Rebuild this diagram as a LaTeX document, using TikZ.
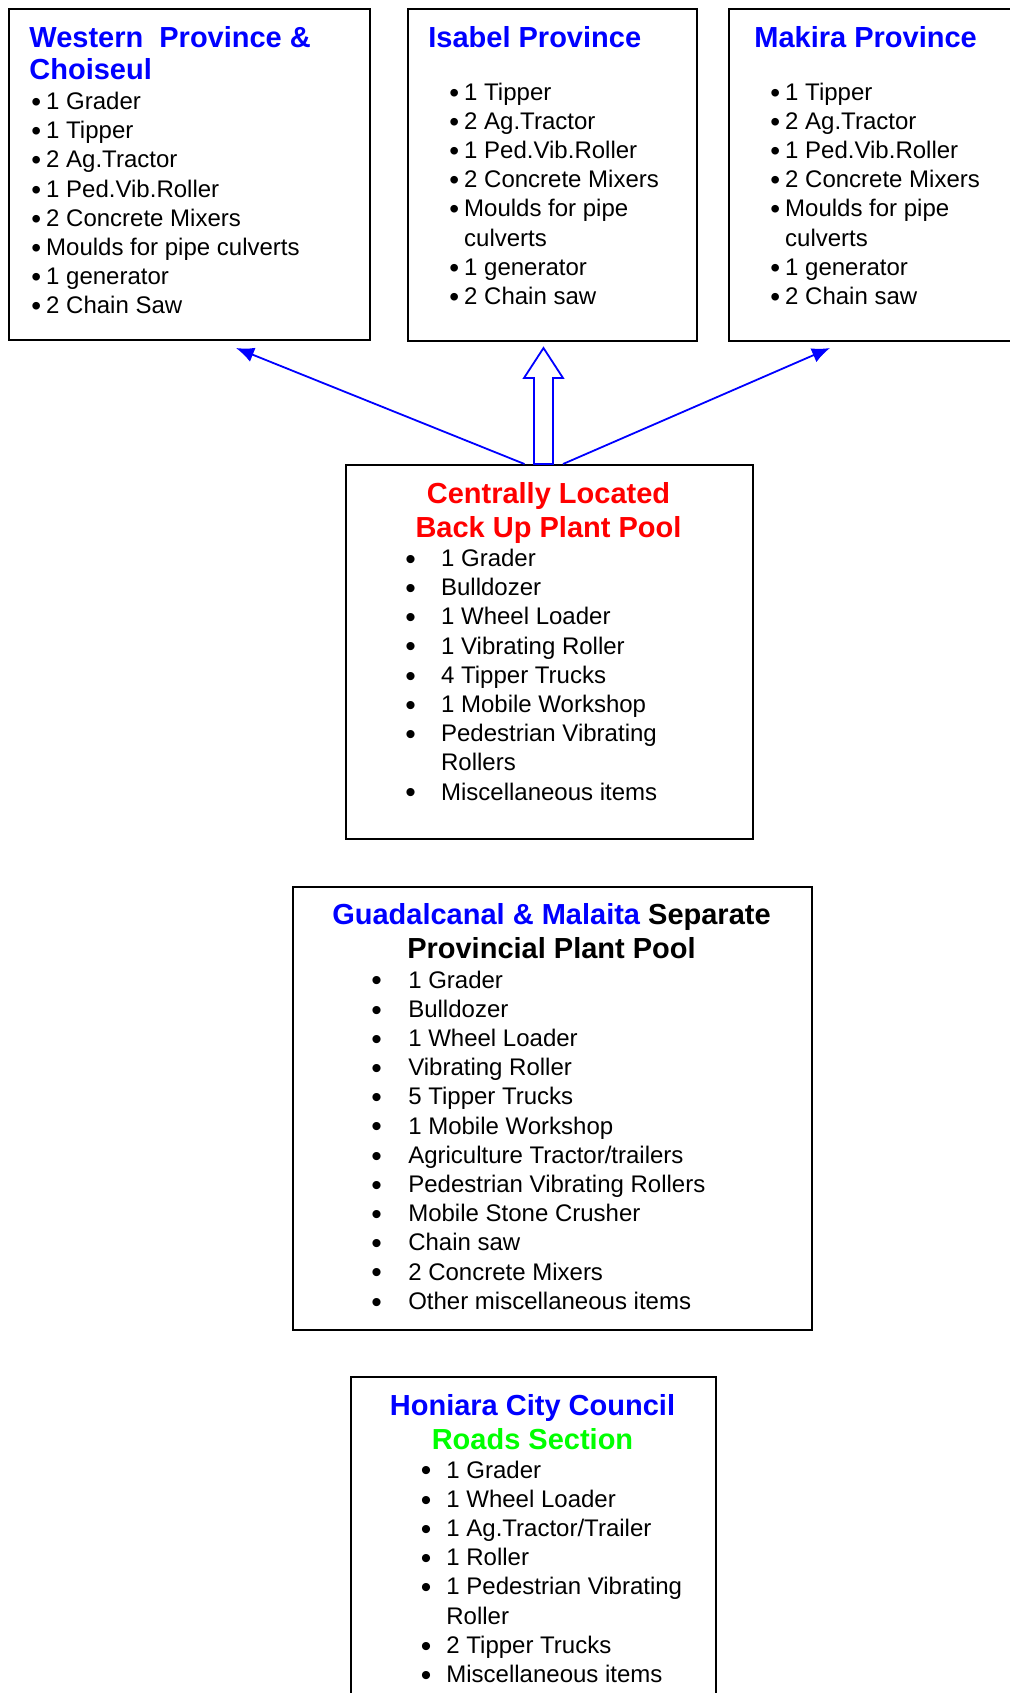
\documentclass[tikz,border=0pt]{standalone}
\usepackage{fontspec}
\setmainfont{Liberation Sans}
\usetikzlibrary{positioning, arrows.meta, calc}

\definecolor{ttlblue}{RGB}{0,0,255}
\definecolor{ttlred}{RGB}{255,0,0}
\definecolor{ttlgreen}{RGB}{0,255,0}

\newcommand{\bul}{\raisebox{-1pt}{\fontsize{14}{14.6}\selectfont\textbullet}}
\newcommand{\bigbul}{\raisebox{-1.4pt}{\fontsize{15}{14.6}\selectfont\textbullet}}

\begin{document}
\begin{tikzpicture}[x=0.5pt,y=-0.5pt,
  box/.style={draw,line width=1pt,anchor=north west,inner sep=0pt},
  ttl/.style={font=\fontsize{14.5}{16.2}\selectfont\bfseries,inner sep=0pt},
  lst/.style={font=\fontsize{12}{14.6}\selectfont,inner sep=0pt,anchor=base west},
  arr/.style={draw=ttlblue,line width=0.9pt,-{Latex[length=9pt,width=7.5pt]}}]
\useasboundingbox (0,0) rectangle (1010,1693);
\clip (0,0) rectangle (1010,1693);

%les cadres
\node[box,minimum width=180.5pt,minimum height=165.5pt] (west) at (8,8) {};
\node[box,minimum width=144.5pt,minimum height=166pt] (isab) at (407,8) {};
\node[box,minimum width=150pt,minimum height=166pt] (maki) at (728,8) {};
\node[box,minimum width=203.5pt,minimum height=187pt] (cen) at (345,464) {};
\node[box,minimum width=259.5pt,minimum height=221.5pt] (guad) at (292,886) {};
\node[box,minimum width=182.5pt,minimum height=170pt] (honi) at (350,1376) {};

%Western
\node[ttl,text=ttlblue,anchor=base west] (westT) at (29,47)
  {\begin{tabular}[t]{@{}l@{}}Western\ \ Province \&\\Choiseul\end{tabular}};
\node[lst] (westL) at (31,109.5) {\begin{tabular}[t]{@{}l@{\hspace{2.5pt}}l@{}}
\bul & 1 Grader\\
\bul & 1 Tipper\\
\bul & 2 Ag.Tractor\\
\bul & 1 Ped.Vib.Roller\\
\bul & 2 Concrete Mixers\\
\bul & Moulds for pipe culverts\\
\bul & 1 generator\\
\bul & 2 Chain Saw
\end{tabular}};

%Isabel
\node[ttl,text=ttlblue,anchor=base west] (isabT) at (428,47) {Isabel Province};
\node[lst] (isabL) at (449,100) {\begin{tabular}[t]{@{}l@{\hspace{2.5pt}}l@{}}
\bul & 1 Tipper\\
\bul & 2 Ag.Tractor\\
\bul & 1 Ped.Vib.Roller\\
\bul & 2 Concrete Mixers\\
\bul & Moulds for pipe\\
     & culverts\\
\bul & 1 generator\\
\bul & 2 Chain saw
\end{tabular}};

%Makira
\node[ttl,text=ttlblue,anchor=base west] (makiT) at (754,47) {Makira Province};
\node[lst] (makiL) at (770,100) {\begin{tabular}[t]{@{}l@{\hspace{2.5pt}}l@{}}
\bul & 1 Tipper\\
\bul & 2 Ag.Tractor\\
\bul & 1 Ped.Vib.Roller\\
\bul & 2 Concrete Mixers\\
\bul & Moulds for pipe\\
     & culverts\\
\bul & 1 generator\\
\bul & 2 Chain saw
\end{tabular}};

%pool central
\node[ttl,text=ttlred,anchor=base,font=\fontsize{14.5}{17.2}\selectfont\bfseries] (cenT) at (548.5,503)
  {\begin{tabular}[t]{@{}c@{}}Centrally Located\\Back Up Plant Pool\end{tabular}};
\node[lst] (cenL) at (405,566.5) {\begin{tabular}[t]{@{}l@{\hspace{12.6pt}}l@{}}
\bigbul & 1 Grader\\
\bigbul & Bulldozer\\
\bigbul & 1 Wheel Loader\\
\bigbul & 1 Vibrating Roller\\
\bigbul & 4 Tipper Trucks\\
\bigbul & 1 Mobile Workshop\\
\bigbul & Pedestrian Vibrating\\
        & Rollers\\
\bigbul & Miscellaneous items
\end{tabular}};

%Guadalcanal
\node[ttl,anchor=base,font=\fontsize{14.5}{17}\selectfont\bfseries] (guadT) at (551.5,924)
  {\begin{tabular}[t]{@{}c@{}}{\color{ttlblue}Guadalcanal \& Malaita} Separate\\Provincial Plant Pool\end{tabular}};
\node[lst] (guadL) at (371,988) {\begin{tabular}[t]{@{}l@{\hspace{13.2pt}}l@{}}
\bigbul & 1 Grader\\
\bigbul & Bulldozer\\
\bigbul & 1 Wheel Loader\\
\bigbul & Vibrating Roller\\
\bigbul & 5 Tipper Trucks\\
\bigbul & 1 Mobile Workshop\\
\bigbul & Agriculture Tractor/trailers\\
\bigbul & Pedestrian Vibrating Rollers\\
\bigbul & Mobile Stone Crusher\\
\bigbul & Chain saw\\
\bigbul & 2 Concrete Mixers\\
\bigbul & Other miscellaneous items
\end{tabular}};

%Honiara
\node[ttl,anchor=base,font=\fontsize{14.5}{17}\selectfont\bfseries] (honiT) at (532.5,1415)
  {\begin{tabular}[t]{@{}c@{}}{\color{ttlblue}Honiara City Council}\\{\color{ttlgreen}Roads Section}\end{tabular}};
\node[lst] (honiL) at (420.5,1478) {\begin{tabular}[t]{@{}l@{\hspace{7.5pt}}l@{}}
\bigbul & 1 Grader\\
\bigbul & 1 Wheel Loader\\
\bigbul & 1 Ag.Tractor/Trailer\\
\bigbul & 1 Roller\\
\bigbul & 1 Pedestrian Vibrating\\
        & Roller\\
\bigbul & 2 Tipper Trucks\\
\bigbul & Miscellaneous items
\end{tabular}};

%les fleches
\coordinate (tipW) at (236,348);
\coordinate (tipM) at (830,348);
\draw[arr] ($(cen.north)+(-25,0)$) -- (tipW);
\draw[arr] ($(cen.north)+(13.5,0)$) -- (tipM);
\draw[draw=ttlblue,line width=0.9pt] ($(cen.north)+(-15.5,0)$) -- ++(0,-86) -- ++(-10,0)
  -- ++(19.5,-30) -- ++(19.5,30) -- ++(-10,0) -- ++(0,86) -- cycle;
\end{tikzpicture}
\end{document}
